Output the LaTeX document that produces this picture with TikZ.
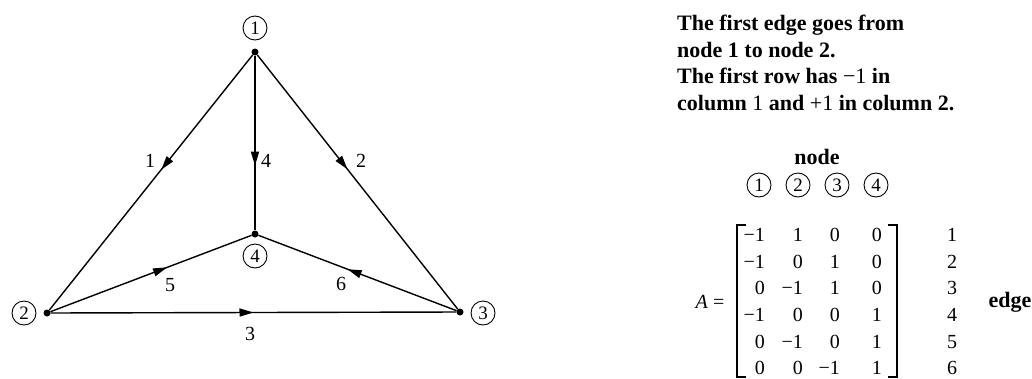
\documentclass[tikz,border=0pt]{standalone}
\usepackage{fontspec}
\setmainfont{Liberation Serif}
\usetikzlibrary{arrows.meta,decorations.markings}
\begin{document}
\begin{tikzpicture}[x=1pt,y=-1pt,
  dot/.style={circle,fill=black,inner sep=0pt,minimum size=7pt},
  circ/.style={circle,draw,line width=0.9pt,inner sep=0pt,minimum size=24pt,font=\fontsize{19}{19}\selectfont},
  edge/.style={line width=1.4pt},
  midarrow/.style={postaction={decorate},decoration={markings,mark=at position #1 with {\arrow{Triangle[length=14pt,width=8pt]}}}},
  lab/.style={font=\fontsize{20}{20}\selectfont},
  btxt/.style={anchor=base west,font=\bfseries\fontsize{22}{26}\selectfont,inner sep=0pt},
  ent/.style={anchor=east,inner sep=0pt,font=\fontsize{20}{20}\selectfont},
  brk/.style={line width=1.2pt}
]
\useasboundingbox (0,0) rectangle (1032,378);
% graph nodes
\node[dot] (n1) at (255,52) {};
\node[dot] (n2) at (47,313) {};
\node[dot] (n3) at (460,312) {};
\node[dot] (n4) at (255,234) {};
\node[circ] (c1) at (255,28) {1};
\node[circ] (c2) at (24,313) {2};
\node[circ] (c3) at (483,313) {3};
\node[circ] (c4) at (255,256) {4};
% edges
\draw[edge,midarrow=0.45] (n1) -- (n2);
\draw[edge,midarrow=0.45] (n1) -- (n3);
\draw[edge,midarrow=0.50] (n2) -- (n3);
\draw[edge,midarrow=0.63] (n1) -- (n4);
\draw[edge,midarrow=0.58] (n2) -- (n4);
\draw[edge,midarrow=0.55] (n3) -- (n4);
% edge labels
\node[lab] (l1) at (150,161) {1};
\node[lab] (l2) at (361,161) {2};
\node[lab] (l3) at (250,334) {3};
\node[lab] (l4) at (266,161) {4};
\node[lab] (l5) at (170,285) {5};
\node[lab] (l6) at (341,284) {6};
% explanatory text
\node[btxt] (t1) at (677,30) {The first edge goes from};
\node[btxt] (t2) at (677,57) {node 1 to node 2.};
\node[btxt] (t3) at (677,83) {The first row has {\mdseries −1} in};
\node[btxt] (t4) at (677,110) {column {\mdseries 1} and {\mdseries +1} in column 2.};
% matrix header
\node[font=\bfseries\fontsize{22}{22}\selectfont,anchor=base] (hd) at (817,164) {node};
\node[circ] (h1) at (759,185) {1};
\node[circ] (h2) at (798,185) {2};
\node[circ] (h3) at (837,185) {3};
\node[circ] (h4) at (876,185) {4};
% matrix entries
\foreach \r/\y/\a/\b/\c/\d in {1/235/−1/1/0/0, 2/262/−1/0/1/0, 3/288/0/−1/1/0, 4/315/−1/0/0/1, 5/342/0/−1/0/1, 6/368/0/0/−1/1}{
  \node[ent] (m\r a) at (765,\y) {\a};
  \node[ent] (m\r b) at (803,\y) {\b};
  \node[ent] (m\r c) at (840,\y) {\c};
  \node[ent] (m\r d) at (882,\y) {\d};
  \node[inner sep=0pt,font=\fontsize{20}{20}\selectfont] (e\r) at (952,\y) {\r};
}
% brackets
\draw[brk] (746,225) -- (737,225) -- (737,377) -- (746,377);
\draw[brk] (888,225) -- (897,225) -- (897,377) -- (888,377);
\node[font=\fontsize{20}{20}\selectfont] (Aeq) at (710,302) {\textit{A} =};
\node[font=\bfseries\fontsize{22}{22}\selectfont] (edg) at (1010,302) {edge};
\end{tikzpicture}
\end{document}
